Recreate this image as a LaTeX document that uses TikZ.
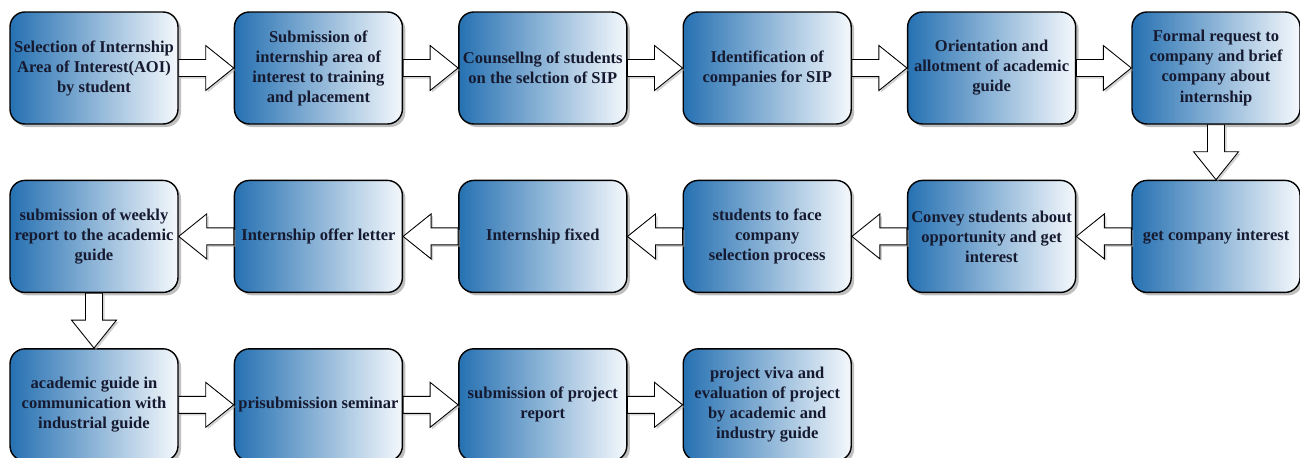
\documentclass[tikz,border=0pt]{standalone}
\usepackage{fontspec}
\setmainfont{Liberation Serif}
\usetikzlibrary{positioning,calc,shadows}
\definecolor{boxblue}{RGB}{38,113,178}
\definecolor{boxpale}{RGB}{244,248,252}
\definecolor{boxtext}{RGB}{22,26,48}
\tikzstyle{stepbox}=[draw=black,line width=0.8pt,rounded corners=0.3cm,
  left color=boxblue,right color=boxpale,
  minimum width=3.36cm,minimum height=2.24cm,inner sep=1pt,
  align=center,text=boxtext,font=\fontsize{9.4}{11.4}\selectfont\bfseries,
  drop shadow={shadow xshift=0.06cm,shadow yshift=-0.06cm,fill=black!50}]
\tikzstyle{flowarrow}=[draw=black,line width=0.5pt,fill=white,
  drop shadow={shadow xshift=0.04cm,shadow yshift=-0.04cm,fill=black!35}]
% block arrow between two anchors at the same height
\newcommand{\harrow}[2]{%
  \path[flowarrow] let \p1=(#1), \p2=(#2), \p3=($(#2)!0.56cm!(#1)$) in
    (\x1,\y1+0.17cm) -- (\x3,\y1+0.17cm) -- (\x3,\y1+0.45cm) -- (\x2,\y2)
    -- (\x3,\y1-0.45cm) -- (\x3,\y1-0.17cm) -- (\x1,\y1-0.17cm) -- cycle;}
% block arrow going down
\newcommand{\varrow}[2]{%
  \path[flowarrow] let \p1=(#1), \p2=(#2), \p3=($(#2)!0.56cm!(#1)$) in
    (\x1-0.17cm,\y1) -- (\x1-0.17cm,\y3) -- (\x1-0.45cm,\y3) -- (\x2,\y2)
    -- (\x1+0.45cm,\y3) -- (\x1+0.17cm,\y3) -- (\x1+0.17cm,\y1) -- cycle;}

\begin{document}
\begin{tikzpicture}[
        node distance=1.1cm
        ]
        \useasboundingbox (0,0) rectangle (26,9.14);
        % first row
        \node[stepbox](s1) at (1.88,7.78) {Selection of Internship\\Area of Interest(AOI)\\by student};
        \node[stepbox](s2) [right=of s1] {Submission of\\internship area of\\interest to training\\and placement};
        \node[stepbox](s3) [right=of s2] {Counsellng of students\\on the selction of SIP};
        \node[stepbox](s4) [right=of s3] {Identification of\\companies for SIP};
        \node[stepbox](s5) [right=of s4] {Orientation and\\allotment of academic\\guide};
        \node[stepbox](s6) [right=of s5] {Formal request to\\company and brief\\company about\\internship};
        % second row, right to left
        \node[stepbox](s7) [below=of s6] {get company interest};
        \node[stepbox](s8) [left=of s7] {Convey students about\\opportunity and get\\interest};
        \node[stepbox](s9) [left=of s8] {students to face\\company\\selection process};
        \node[stepbox](s10) [left=of s9] {Internship fixed};
        \node[stepbox](s11) [left=of s10] {Internship offer letter};
        \node[stepbox](s12) [left=of s11] {submission of weekly\\report to the academic\\guide};
        % third row
        \node[stepbox](s13) [below=of s12] {academic guide in\\communication with\\industrial guide};
        \node[stepbox](s14) [right=of s13] {prisubmission seminar};
        \node[stepbox](s15) [right=of s14] {submission of project\\report};
        \node[stepbox](s16) [right=of s15] {project viva and\\evaluation of project\\by academic and\\industry guide};
        \harrow{s1.east}{s2.west}
        \harrow{s2.east}{s3.west}
        \harrow{s3.east}{s4.west}
        \harrow{s4.east}{s5.west}
        \harrow{s5.east}{s6.west}
        \varrow{s6.south}{s7.north}
        \harrow{s7.west}{s8.east}
        \harrow{s8.west}{s9.east}
        \harrow{s9.west}{s10.east}
        \harrow{s10.west}{s11.east}
        \harrow{s11.west}{s12.east}
        \varrow{s12.south}{s13.north}
        \harrow{s13.east}{s14.west}
        \harrow{s14.east}{s15.west}
        \harrow{s15.east}{s16.west}
    \end{tikzpicture}
\end{document}
